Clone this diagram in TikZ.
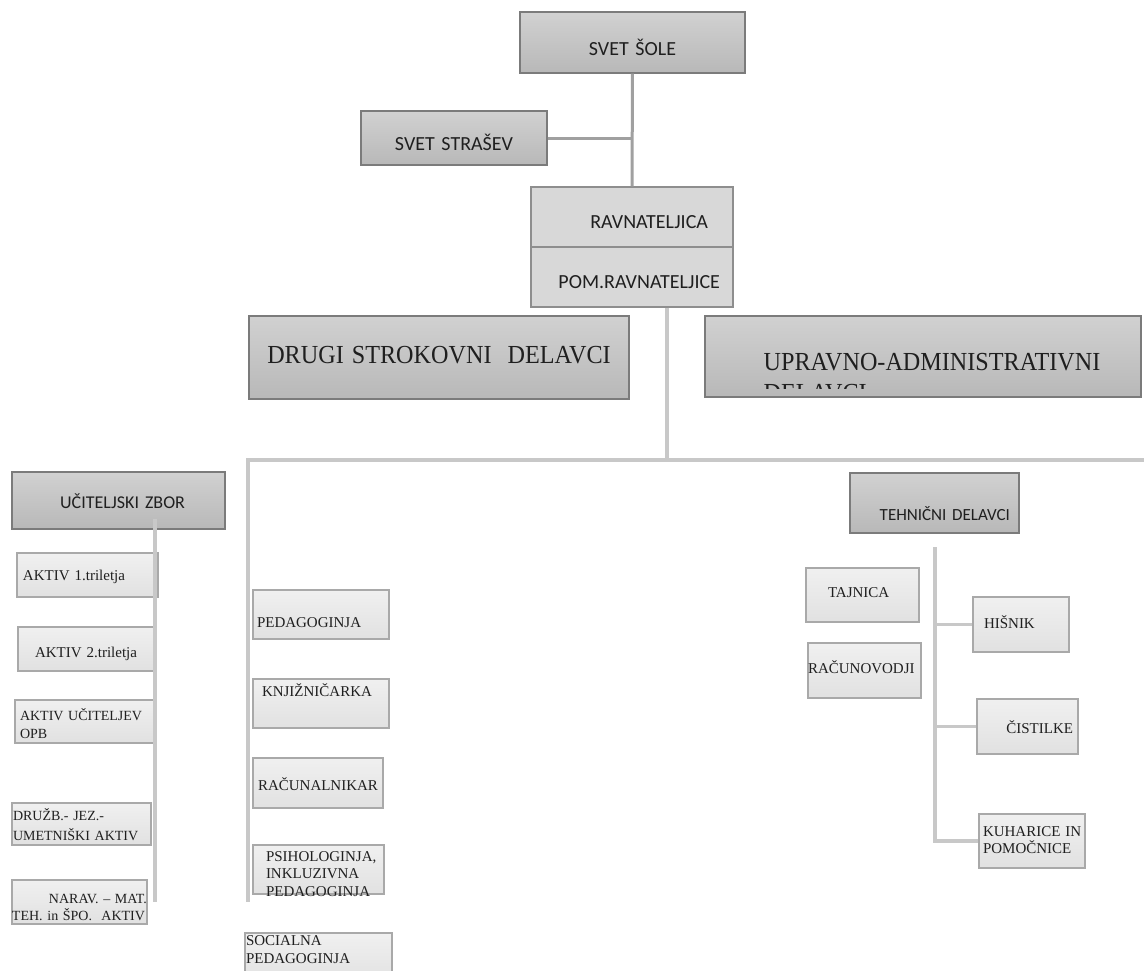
\documentclass[tikz,border=0pt]{standalone}
\usepackage{fontspec}
\setmainfont{Liberation Serif}
\setsansfont{Carlito}
\definecolor{darkfillA}{HTML}{D1D1D1}
\definecolor{darkfillB}{HTML}{B8B8B8}
\definecolor{darkedge}{HTML}{7B7B7B}
\definecolor{midfill}{HTML}{D8D8D8}
\definecolor{midedge}{HTML}{8E8E8E}
\definecolor{lightfillA}{HTML}{F0F0F0}
\definecolor{lightfillB}{HTML}{E1E1E1}
\definecolor{lightedge}{HTML}{A9A9A9}
\definecolor{uplinecol}{HTML}{A0A0A0}
\definecolor{lowlinecol}{HTML}{C8C8C8}
\newcommand{\orgfont}[2]{\fontsize{#1pt}{#2pt}\selectfont}

\begin{document}
\begin{tikzpicture}[x=1pt, y=-1pt,
    every node/.style={inner sep=0pt, text=black!88},
    headbox/.style={draw=darkedge, line width=1.4pt, top color=darkfillA, bottom color=darkfillB},
    leadbox/.style={draw=midedge, line width=1.2pt, fill=midfill, font=\sffamily\orgfont{20}{24}},
    staffbox/.style={draw=lightedge, line width=1.2pt, top color=lightfillA, bottom color=lightfillB, font=\orgfont{15}{17.5}},
    upline/.style={draw=uplinecol, line width=3pt},
    lowline/.style={draw=lowlinecol, line width=3.5pt}]
    \useasboundingbox (0,0) rectangle (1144,970);
    \clip (0,0) rectangle (1144,970);

    % Councils and management
    \node[headbox, font=\sffamily\orgfont{20}{24}, minimum width=225pt, minimum height=61pt, text width=225pt, align=center, text height=25pt, text depth=0pt] (sola) at (632.5,42.5) {SVET ŠOLE};
    \node[headbox, font=\sffamily\orgfont{20}{24}, minimum width=186pt, minimum height=54pt, text width=186pt, align=center, text height=24pt, text depth=0pt] (starsi) at (454,138) {SVET STRAŠEV};
    \node[leadbox, minimum width=202pt, minimum height=60pt, text width=152pt, align=right, text height=22pt, text depth=0pt] (ravn) at (632,217) {RAVNATELJICA};
    \node[leadbox, minimum width=202pt, minimum height=60pt, text width=176pt, align=right, text height=22pt, text depth=0pt] (pom) at (632,277) {POM.RAVNATELJICE};

    % Two large groups
    \node[headbox, font=\orgfont{26}{31}, minimum width=380pt, minimum height=83pt, text width=380pt, align=center, text height=11pt, text depth=0pt] (drugi) at (439,357.5) {\scalebox{0.93}[1]{DRUGI STROKOVNI\ \ DELAVCI}};
    \node[headbox, minimum width=436pt, minimum height=81pt,
        path picture={\clip ([yshift=9pt]path picture bounding box.south west) rectangle (path picture bounding box.north east);
            \node[anchor=base west, font=\orgfont{26}{31}, text width=380pt, align=left] (upravnotext) at ([xshift=30pt, yshift=-13.5pt]path picture bounding box.west) {\scalebox{0.93}[1]{UPRAVNO-ADMINISTRATIVNI}\\\scalebox{0.93}[1]{DELAVCI}};}] (upravno) at (923,356.5) {};

    % Teachers
    \node[headbox, font=\sffamily\orgfont{18}{22}, minimum width=213pt, minimum height=57pt, text width=133pt, align=right, text height=15pt, text depth=0pt] (zbor) at (118.5,500.5) {UČITELJSKI ZBOR};
    \node[staffbox, minimum width=141pt, minimum height=44pt, text width=129pt, align=left, text height=10pt, text depth=0pt] (aktiva) at (87.5,575) {AKTIV 1.triletja};
    \node[staffbox, minimum width=138pt, minimum height=44pt, text width=104pt, align=left, text height=16pt, text depth=0pt] (aktivb) at (87,649) {AKTIV 2.triletja};
    \node[staffbox, font=\orgfont{14}{18}, minimum width=141pt, minimum height=43pt, text width=131pt, align=left, text height=0pt, text depth=3pt] (aktivopb) at (85.5,721.5) {AKTIV~UČITELJEV\\OPB};
    \node[staffbox, font=\orgfont{14}{20}, minimum width=139pt, minimum height=42pt, text width=137pt, align=left, text height=0pt, text depth=8pt] (aktivdru) at (81.5,824) {DRUŽB.-~JEZ.-\\UMETNIŠKI~AKTIV};
    \node[staffbox, font=\orgfont{14}{17}, minimum width=135pt, minimum height=44pt, text width=135pt, align=left, text height=2pt, text depth=0pt] (aktivnar) at (79.5,902) {\hspace*{\fill}NARAV.~–~MAT.\\TEH.~in~ŠPO.~~AKTIV};

    % Other professional staff
    \node[staffbox, minimum width=136pt, minimum height=49pt, text width=128pt, align=left, text height=25pt, text depth=0pt] (pedag) at (321,614.5) {PEDAGOGINJA};
    \node[staffbox, minimum width=136pt, minimum height=49pt, text width=118pt, align=left, text height=0pt, text depth=15pt] (knjiz) at (321,703.5) {KNJIŽNIČARKA};
    \node[staffbox, minimum width=130pt, minimum height=50pt, text width=120pt, align=left, text height=14pt, text depth=0pt] (racun) at (318,783) {RAČUNALNIKAR};
    \node[staffbox, minimum width=131pt, minimum height=49pt, text width=105pt, align=left, text height=0pt, text depth=17pt] (psiho) at (318.5,869.5) {PSIHOLOGINJA,\\INKLUZIVNA\\PEDAGOGINJA};
    \node[staffbox, font=\orgfont{15}{18}, minimum width=147pt, minimum height=52pt, text width=145pt, align=left, text height=0pt, text depth=28pt] (social) at (318.5,959) {SOCIALNA\\PEDAGOGINJA};

    % Technical staff
    \node[headbox, font=\sffamily\orgfont{17}{20}, minimum width=169pt, minimum height=60pt, text width=151pt, align=right, text height=34pt, text depth=0pt] (tehn) at (934.5,503) {TEHNIČNI DELAVCI};
    \node[staffbox, minimum width=113pt, minimum height=54pt, text width=69pt, align=left, text height=4pt, text depth=0pt] (tajnica) at (862.5,595) {TAJNICA};
    \node[staffbox, minimum width=113pt, minimum height=55pt, text width=113pt, align=left, text height=5pt, text depth=0pt] (racunov) at (864.5,670.5) {RAČUNOVODJI};
    \node[staffbox, minimum width=96pt, minimum height=55pt, text width=74pt, align=left, text height=7pt, text depth=0pt] (hisnik) at (1021,624.5) {HIŠNIK};
    \node[staffbox, minimum width=101pt, minimum height=55pt, text width=91pt, align=right, text height=13pt, text depth=0pt] (cistilke) at (1027.5,726.5) {ČISTILKE};
    \node[staffbox, font=\orgfont{15}{17}, minimum width=106pt, minimum height=54pt, text width=98pt, align=left, text height=0pt, text depth=10pt] (kuharice) at (1032,841) {KUHARICE~IN\\POMOČNICE};

    % Connectors
    \coordinate (hub) at (667,460);
    \coordinate (busL) at (248,460);
    \coordinate (busR) at (1144,460);
    \coordinate (midend) at (248,902);
    \coordinate (leftend) at (155,902);
    \coordinate (rtop) at (935,547);

    \draw[upline] (sola) -- (ravn);
    \draw[upline] (starsi.east) -- (starsi.east -| sola.south);
    \draw[lowline] (pom.south -| hub) -- (hub);
    \draw[lowline] (busR) -- (busL) -- (midend);
    \draw[lowline] ([yshift=11pt]zbor.south -| leftend) -- (leftend);
    \draw[lowline] (rtop) |- (kuharice.west);
    \draw[lowline] (hisnik.west -| rtop) -- (hisnik.west);
    \draw[lowline] (cistilke.west -| rtop) -- (cistilke.west);
\end{tikzpicture}
\end{document}
